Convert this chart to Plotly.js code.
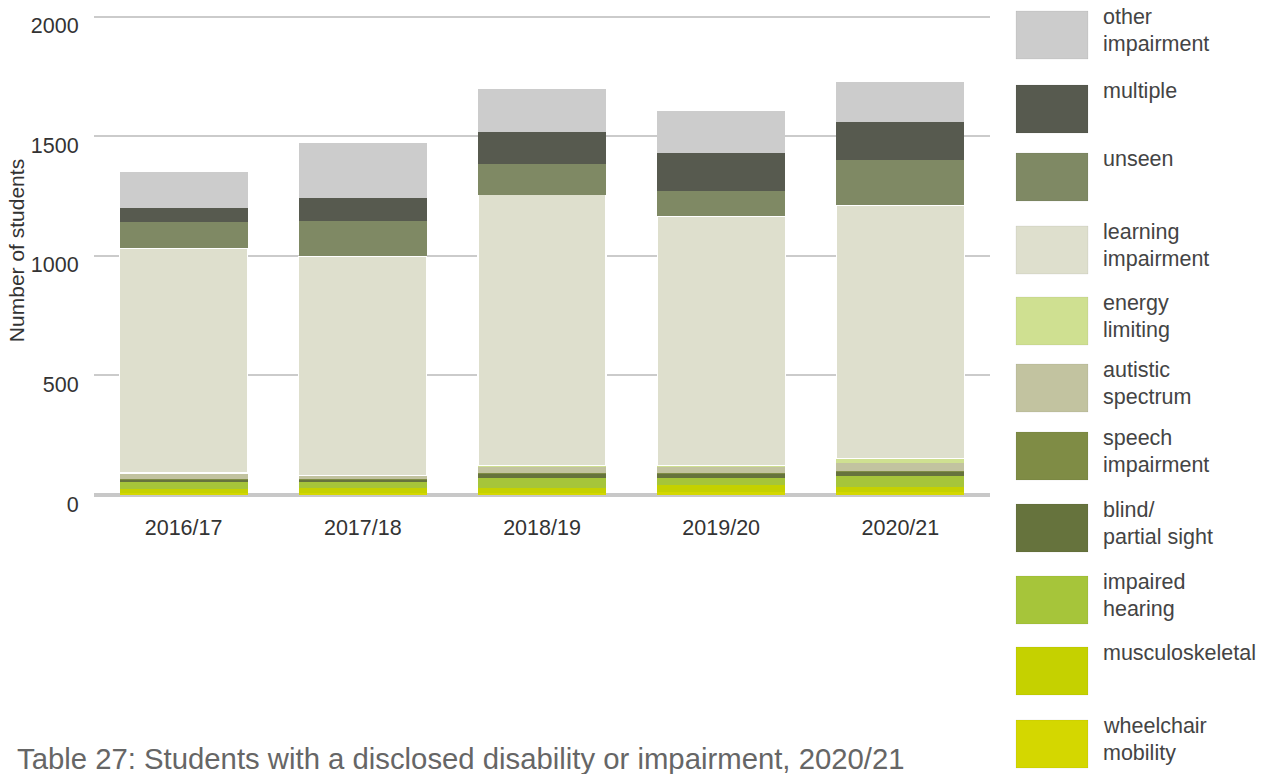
<!DOCTYPE html>
<html>
<head>
<meta charset="utf-8">
<script src="https://cdn.plot.ly/plotly-3.0.1.min.js"></script>
<style>html,body{margin:0;padding:0;background:#fff;}#chart{width:1272px;height:774px;}</style>
</head>
<body>
<div id="chart"></div>
<script>
// ---- data ----
const categories = ['2016/17', '2017/18', '2018/19', '2019/20', '2020/21'];

const wheelchairMobility = [8, 10, 10, 12, 11];
const musculoskeletal    = [16, 20, 21, 29, 22];
const impairedHearing    = [33, 25, 41, 31, 47];
const blindPartialSight  = [6, 9, 16, 16, 17];
const speechImpairment   = [2, 2, 3, 3, 3];
const autisticSpectrum   = [25, 14, 29, 29, 35];
const energyLimiting     = [2, 2, 3, 3, 17];
const learningImpairment = [939, 916, 1133, 1042, 1060];
const unseen             = [109, 147, 128, 108, 189];
const multiple           = [62, 97, 136, 159, 159];
const otherImpairment    = [150, 231, 177, 175, 168];

// series, bottom to top
const seriesNames = ['wheelchair<br>mobility', 'musculoskeletal', 'impaired<br>hearing', 'blind/<br>partial sight',
  'speech<br>impairment', 'autistic<br>spectrum', 'energy<br>limiting', 'learning<br>impairment',
  'unseen', 'multiple', 'other<br>impairment'];
const seriesValues = [wheelchairMobility, musculoskeletal, impairedHearing, blindPartialSight,
  speechImpairment, autisticSpectrum, energyLimiting, learningImpairment, unseen, multiple, otherImpairment];
const seriesColors = ['#d4d700', '#c5d100', '#a6c53a', '#66733d', '#7f8c45', '#c2c3a0', '#cfe091',
  '#dedfcd', '#7f8964', '#575a4f', '#cccccc'];

const FONT = 'Liberation Sans, Arial, Helvetica, sans-serif';

const traces = seriesValues.map((vals, i) => ({
  type: 'bar',
  x: categories,
  y: vals,
  name: seriesNames[i].replace('<br>', ' '),
  marker: {
    color: seriesColors[i],
    line: {color: i === 7 ? '#ffffff' : seriesColors[i], width: i === 7 ? 1.2 : 0}
  },
  hoverinfo: 'x+y+name'
}));

// plot area in pixels
const W = 1272, H = 774;
const M = {l: 94, r: 282, t: 6, b: 279};
const pw = W - M.l - M.r, ph = H - M.t - M.b;
const px2x = p => (p - M.l) / pw;
const py2y = p => (H - M.b - p) / ph;

// custom legend (large swatches), top to bottom
const shapes = [];
const annotations = [];
const legendTops = [11, 85, 153, 226, 297, 364, 432, 504, 576, 647, 720];
for (let k = 0; k < seriesNames.length; k++) {
  const i = seriesNames.length - 1 - k;
  const top = legendTops[k];
  shapes.push({
    type: 'rect', xref: 'paper', yref: 'paper',
    x0: px2x(1016), x1: px2x(1088), y0: py2y(top + 48), y1: py2y(top),
    fillcolor: seriesColors[i], line: {color: 'rgba(0,0,0,0.06)', width: 1}
  });
  seriesNames[i].split('<br>').forEach((line, j) => {
    annotations.push({
      xref: 'paper', yref: 'paper', x: px2x(1101), y: py2y(top + 6 + j * 26.5),
      xanchor: 'left', yanchor: 'middle', align: 'left', showarrow: false,
      text: line, font: {family: FONT, size: 21.5, color: '#444444'}
    });
  });
}

const layout = {
  width: W, height: H,
  margin: M,
  paper_bgcolor: '#ffffff', plot_bgcolor: '#ffffff',
  barmode: 'stack',
  bargap: 0.285,
  showlegend: false,
  font: {family: FONT, size: 21.5, color: '#333333'},
  title: {
    text: 'Table 27: Students with a disclosed disability or impairment, 2020/21',
    font: {family: FONT, size: 29.3, color: '#666666'},
    xref: 'container', yref: 'container',
    x: 17 / W, xanchor: 'left', y: (H - 759) / H, yanchor: 'middle'
  },
  xaxis: {
    type: 'category',
    showgrid: false, showline: false, zeroline: false,
    ticks: 'outside', ticklen: 13, tickcolor: 'rgba(0,0,0,0)',
    tickfont: {family: FONT, size: 21.5, color: '#333333'}
  },
  yaxis: {
    range: [0, 2045],
    tickvals: [0, 500, 1000, 1500, 2000],
    showgrid: true, gridcolor: '#cbcbcb', gridwidth: 2,
    zeroline: true, zerolinecolor: '#c8c8c8', zerolinewidth: 4,
    showline: false,
    ticks: 'outside', ticklen: 10, tickcolor: 'rgba(0,0,0,0)',
    ticklabelshift: 9,
    tickfont: {family: FONT, size: 21.5, color: '#333333'},
    title: {text: 'Number of students', font: {family: FONT, size: 21, color: '#333333'}, standoff: 0}
  },
  shapes: shapes,
  annotations: annotations
};

Plotly.newPlot('chart', traces, layout, {displayModeBar: false, responsive: false});
</script>
</body>
</html>
